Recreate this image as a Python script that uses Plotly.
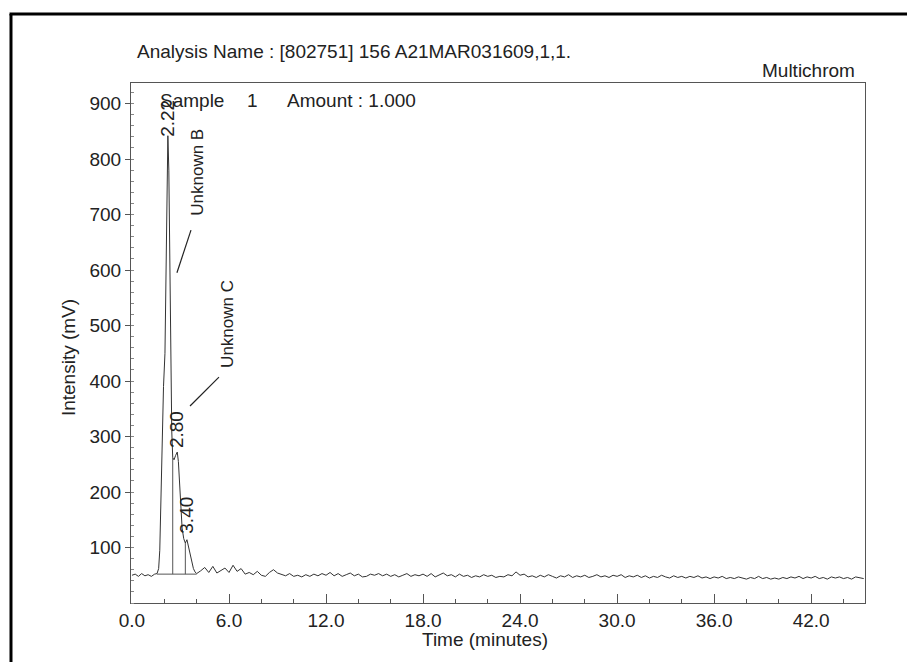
import plotly.graph_objects as go

# ---- chromatogram trace: peak cluster (0-4 min) ----
peak_times = [0.0, 0.2, 0.4, 0.6, 0.8, 1.0, 1.2, 1.4, 1.55, 1.65, 1.72, 1.8, 1.86,
              1.95, 2.04, 2.1, 2.16, 2.22, 2.28, 2.34, 2.4, 2.46, 2.52, 2.6, 2.7,
              2.8, 2.87, 2.94, 3.02, 3.1, 3.2, 3.3, 3.4, 3.5, 3.6, 3.7, 3.8, 3.9, 4.0]
peak_mv = [50, 52, 48, 53, 49, 51, 48, 52, 53, 62, 95, 190, 300,
           390, 450, 560, 720, 842, 780, 600, 430, 310, 262, 258, 266,
           272, 255, 215, 170, 135, 116, 108, 114, 100, 84, 72, 62, 56, 53]

# ---- chromatogram trace: baseline after the peaks, every 0.25 min from 4.25 min ----
baseline_mv = [
    58, 64, 55, 66, 54, 58, 63, 55, 68, 57, 62, 52, 55, 51, 57, 50,      # 4.25 - 8.0
    48, 55, 60, 54, 52, 49, 53, 48, 50, 47, 51, 48, 52, 49, 53, 50,      # 8.25 - 12.0
    55, 49, 53, 48, 51, 54, 49, 52, 47, 48, 52, 50, 53, 49, 52, 48,      # 12.25 - 16.0
    51, 47, 50, 53, 48, 51, 49, 52, 48, 53, 47, 50, 54, 49, 51, 47,      # 16.25 - 20.0
    52, 48, 50, 46, 49, 47, 51, 48, 50, 46, 48, 47, 51, 49, 56, 50,      # 20.25 - 24.0
    52, 47, 49, 46, 50, 47, 51, 48, 45, 49, 47, 51, 46, 49, 47, 50,      # 24.25 - 28.0
    46, 48, 51, 47, 49, 46, 50, 48, 51, 46, 49, 47, 50, 46, 49, 45,      # 28.25 - 32.0
    48, 46, 50, 47, 45, 49, 46, 48, 45, 48, 46, 49, 45, 47, 44, 47,      # 32.25 - 36.0
    45, 48, 44, 46, 44, 47, 45, 43, 46, 44, 48, 44, 46, 43, 45, 43,      # 36.25 - 40.0
    46, 44, 47, 45, 48, 44, 47, 45, 48, 44, 46, 43, 47, 45, 47, 44,      # 40.25 - 44.0
    46, 43, 47, 45, 44,                                                  # 44.25 - 45.25
]
baseline_times = [4.25 + 0.25 * i for i in range(len(baseline_mv))]

times = peak_times + baseline_times
intensity = peak_mv + baseline_mv

# ---- integration baseline and valley drop lines ----
integ_times = [1.55, 4.0]
integ_mv = [52, 52]
valley_times = [2.52, 3.3]
valley_mv = [262, 108]

# ---- peak labels ----
peak_label_rt = [2.22, 2.80, 3.40]
peak_label_text = ["2.22", "2.80", "3.40"]
peak_label_y = [874, 312, 159]

# ---- axis ticks ----
x_tick_vals = [0, 6, 12, 18, 24, 30, 36, 42]
x_tick_text = ["0.0", "6.0", "12.0", "18.0", "24.0", "30.0", "36.0", "42.0"]
y_tick_vals = [100, 200, 300, 400, 500, 600, 700, 800, 900]

FONT = "Liberation Sans, Arial, sans-serif"
INK = "#222222"
AXIS = "#555555"

fig = go.Figure()

fig.add_trace(go.Scatter(x=times, y=intensity, mode="lines",
                         line=dict(color="#333333", width=1), hoverinfo="skip"))

fig.add_trace(go.Scatter(x=integ_times, y=integ_mv, mode="lines",
                         line=dict(color="#555555", width=1), hoverinfo="skip"))

drop_x, drop_y = [], []
for t, v in zip(valley_times, valley_mv):
    drop_x += [t, t, None]
    drop_y += [integ_mv[0], v, None]
fig.add_trace(go.Scatter(x=drop_x, y=drop_y, mode="lines",
                         line=dict(color="#555555", width=1), hoverinfo="skip"))

annotations = []
for rt, txt, yv in zip(peak_label_rt, peak_label_text, peak_label_y):
    annotations.append(dict(x=rt, y=yv, xref="x", yref="y", text=txt, textangle=-90,
                            showarrow=False, font=dict(family=FONT, size=19, color=INK)))

# component names with leader lines
annotations.append(dict(x=4.08, y=777, xref="x", yref="y", text="Unknown B", textangle=-90,
                        showarrow=False, font=dict(family=FONT, size=17, color=INK)))
annotations.append(dict(x=5.94, y=503, xref="x", yref="y", text="Unknown C", textangle=-90,
                        showarrow=False, font=dict(family=FONT, size=17, color=INK)))

shapes = [
    dict(type="line", xref="x", yref="y", x0=3.65, y0=672, x1=2.78, y1=595,
         line=dict(color=INK, width=1.2)),
    dict(type="line", xref="x", yref="y", x0=5.38, y0=407, x1=3.59, y1=355,
         line=dict(color=INK, width=1.2)),
    # page border (left and top edges)
    dict(type="line", xref="paper", yref="paper", x0=-0.1635, y0=-0.15, x1=-0.1635, y1=1.1327,
         line=dict(color="black", width=3)),
    dict(type="line", xref="paper", yref="paper", x0=-0.1655, y0=1.1327, x1=1.07, y1=1.1327,
         line=dict(color="black", width=3)),
]

# header texts
annotations += [
    dict(x=0.0054, y=1.0615, xref="paper", yref="paper", xanchor="left", yanchor="middle",
         text="Analysis Name : [802751] 156 A21MAR031609,1,1.", showarrow=False,
         font=dict(family=FONT, size=19, color=INK)),
    dict(x=0.989, y=1.025, xref="paper", yref="paper", xanchor="right", yanchor="middle",
         text="Multichrom", showarrow=False, font=dict(family=FONT, size=19, color=INK)),
    dict(x=0.0368, y=0.967, xref="paper", yref="paper", xanchor="left", yanchor="middle",
         text="Sample", showarrow=False, font=dict(family=FONT, size=19, color=INK)),
    dict(x=0.155, y=0.967, xref="paper", yref="paper", xanchor="left", yanchor="middle",
         text="1", showarrow=False, font=dict(family=FONT, size=19, color=INK)),
    dict(x=0.2098, y=0.967, xref="paper", yref="paper", xanchor="left", yanchor="middle",
         text="Amount : 1.000", showarrow=False, font=dict(family=FONT, size=19, color=INK)),
    # axis titles
    dict(x=0.482, y=-0.071, xref="paper", yref="paper", xanchor="center", yanchor="middle",
         text="Time (minutes)", showarrow=False, font=dict(family=FONT, size=19, color=INK)),
    dict(x=-0.0858, y=0.471, xref="paper", yref="paper", xanchor="center", yanchor="middle",
         text="Intensity (mV)", textangle=-90, showarrow=False,
         font=dict(family=FONT, size=19, color=INK)),
]

fig.update_layout(
    width=907, height=662,
    margin=dict(l=131, r=42, t=83, b=59),
    paper_bgcolor="white", plot_bgcolor="white",
    showlegend=False,
    font=dict(family=FONT, size=19, color=INK),
    annotations=annotations,
    shapes=shapes,
    xaxis=dict(range=[-0.06, 45.33], showline=True, linecolor=AXIS, linewidth=1, mirror=True,
               ticks="inside", ticklen=9, tickwidth=1, tickcolor=AXIS,
               tickvals=x_tick_vals, ticktext=x_tick_text,
               tickfont=dict(family=FONT, size=19, color=INK),
               minor=dict(dtick=2, tick0=0, ticks="inside", ticklen=4, tickcolor=AXIS, showgrid=False),
               showgrid=False, zeroline=False),
    yaxis=dict(range=[0, 937], showline=True, linecolor=AXIS, linewidth=1, mirror=True,
               ticks="outside", ticklen=5, tickwidth=1, tickcolor=AXIS,
               tickvals=y_tick_vals, tickfont=dict(family=FONT, size=19, color=INK),
               minor=dict(dtick=20, tick0=0, ticks="inside", ticklen=3, tickcolor="#888888", showgrid=False),
               showgrid=False, zeroline=False),
)

fig.write_html("out.html")
